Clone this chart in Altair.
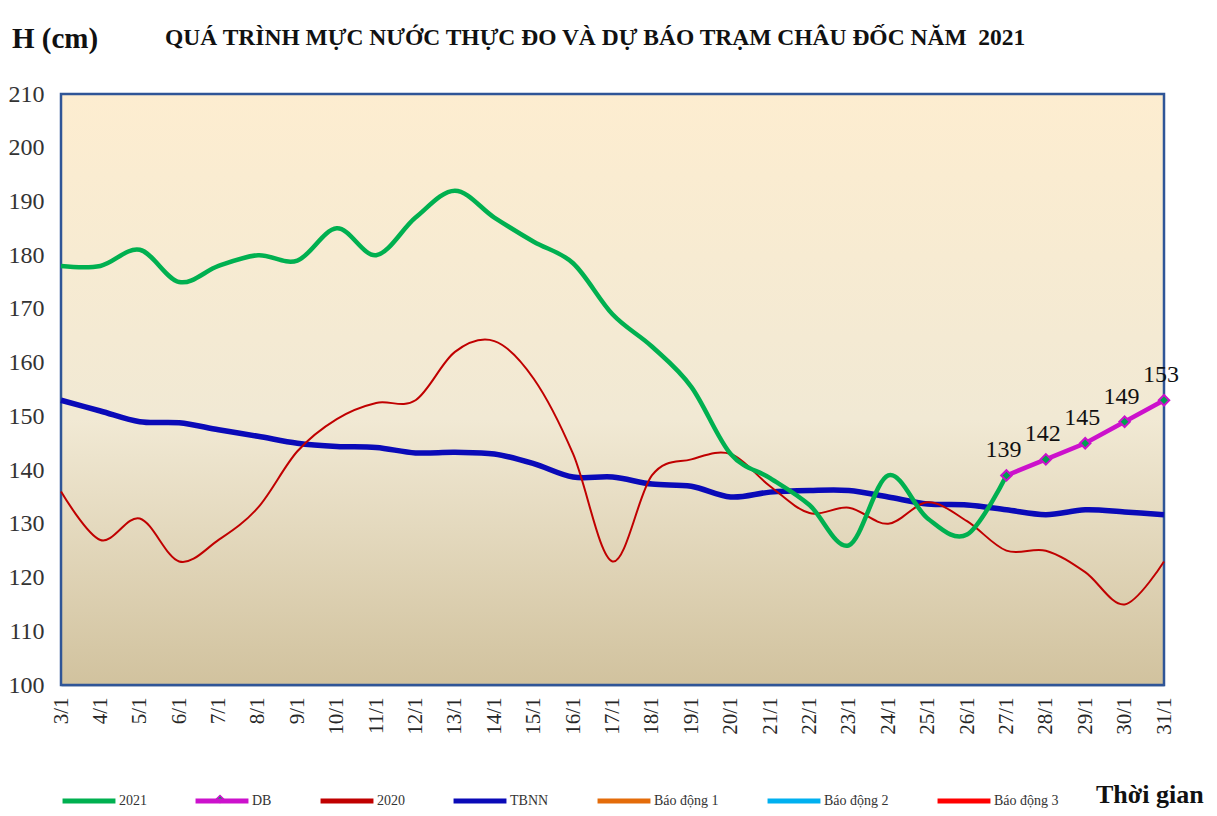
import altair as alt
import pandas as pd

# ---- data ----
days = list(range(3, 32))
day_labels = [f"{d}/1" for d in days]

days_2021 = list(range(3, 28))
lv_2021 = [178, 178, 181, 175, 178, 180, 179, 185, 180, 187, 192, 187, 182.5,
           178.5, 169, 163, 155.5, 143, 138.5, 133.5, 126, 139, 131, 128, 139]

days_db = [27, 28, 29, 30, 31]
lv_db = [139, 142, 145, 149, 153]

lv_2020 = [136, 127, 131, 123, 127, 133, 143.5, 149.5, 152.5, 153, 162, 164,
           157, 143, 123, 139, 142, 143, 137, 132, 133, 130, 134, 130.5, 125,
           125, 121, 115, 123]

lv_tbnn = [153, 151, 149, 148.8, 147.5, 146.3, 145, 144.4, 144.2, 143.2, 143.3,
           143, 141.2, 138.7, 138.7, 137.4, 137, 135, 135.9, 136.2, 136.2, 135,
           133.7, 133.5, 132.6, 131.7, 132.6, 132.2, 131.7]

series_names = ["2021", "DB", "2020", "TBNN", "Báo động 1", "Báo động 2", "Báo động 3"]
series_colors = ["#00B050", "#CC11CC", "#C00000", "#0A0AB8", "#E46C0A", "#00B0F0", "#FF0000"]

y_ticks = list(range(100, 211, 10))

df_2021 = pd.DataFrame({"day": days_2021, "value": lv_2021, "series": "2021"})
df_db = pd.DataFrame({"day": days_db, "value": lv_db, "series": "DB"})
df_2020 = pd.DataFrame({"day": days, "value": lv_2020, "series": "2020"})
df_tbnn = pd.DataFrame({"day": days, "value": lv_tbnn, "series": "TBNN"})
df_bg = pd.DataFrame({"day": [days[0]], "day2": [days[-1]], "value": [y_ticks[0]], "value2": [y_ticks[-1]]})

SERIF = "Liberation Serif"
W, H = 1103, 591

x_axis = alt.Axis(values=days, labelExpr="datum.value + '/1'", labelAngle=-90,
                  labelFont=SERIF, labelFontSize=21, labelColor="#262626",
                  ticks=False, domainColor="#C8D0DC", domainWidth=3,
                  labelPadding=12, title=None, grid=False)
y_axis = alt.Axis(values=y_ticks, labelFont=SERIF, labelFontSize=24, labelColor="#333333",
                  ticks=False, domain=False, labelPadding=17, title=None, grid=False)

x_scale = alt.Scale(domain=[3, 31], nice=False, zero=False)
y_scale = alt.Scale(domain=[100, 210], nice=False, zero=False)

X = alt.X("day:Q", scale=x_scale, axis=x_axis)
Y = alt.Y("value:Q", scale=y_scale, axis=y_axis)

color_scale = alt.Scale(domain=series_names, range=series_colors)
legend = alt.Legend(orient="none", legendX=-1, legendY=678, direction="horizontal",
                    columns=7, title=None, symbolType="stroke", symbolSize=2800,
                    symbolStrokeWidth=5, labelFont=SERIF, labelFontSize=14,
                    labelColor="#333333", labelOffset=1, columnPadding=38,
                    gridAlign="each")
C = alt.Color("series:N", scale=color_scale, legend=legend)

bg = alt.Chart(df_bg).mark_rect(
    color=alt.LinearGradient(gradient="linear", x1=0, x2=0, y1=0, y2=1,
                             stops=[alt.GradientStop(color="#FDEDD0", offset=0),
                                    alt.GradientStop(color="#F1E9D4", offset=0.55),
                                    alt.GradientStop(color="#D1C29E", offset=1)])
).encode(x=X, x2="day2:Q", y=Y, y2="value2:Q")

l_tbnn = alt.Chart(df_tbnn).mark_line(strokeWidth=5.5, interpolate="cardinal").encode(x=X, y=Y, color=C)
l_2020 = alt.Chart(df_2020).mark_line(strokeWidth=2, interpolate="cardinal").encode(x=X, y=Y, color=C)
l_2021 = alt.Chart(df_2021).mark_line(strokeWidth=4.5, interpolate="cardinal").encode(x=X, y=Y, color=C)
l_db = alt.Chart(df_db).mark_line(strokeWidth=4.5).encode(x=X, y=Y, color=C)
p_db = alt.Chart(df_db).mark_point(shape="diamond", filled=True, fill="#00A050",
                                   stroke="#CC11CC", strokeWidth=2, size=110,
                                   opacity=1).encode(x=X, y=Y)
t_db = alt.Chart(df_db).mark_text(font=SERIF, fontSize=24, color="#111111",
                                  dy=-25, dx=-3, align="center").encode(
    x=X, y=Y, text=alt.Text("value:Q"))

# left/top/right frame of the plot area
frame = alt.Chart(df_bg).mark_rect(fill=None, stroke="#2F5597", strokeWidth=2.5).encode(
    x=X, x2="day2:Q", y=Y, y2="value2:Q")

# diamond marker in the DB legend entry
leg_marker = alt.Chart(pd.DataFrame({"k": [0]})).mark_point(
    shape="diamond", filled=True, fill="#00A050", stroke="#CC11CC", strokeWidth=1.5,
    size=50, opacity=1).encode(x=alt.value(159), y=alt.value(705))

# texts outside plot
ann = pd.DataFrame({"t": ["H (cm)"]})
t_h = alt.Chart(ann).mark_text(font=SERIF, fontSize=29, fontWeight="bold", align="left",
                               color="#111111").encode(
    x=alt.value(-49), y=alt.value(-55), text="t:N")
ann2 = pd.DataFrame({"t": ["QUÁ TRÌNH MỰC NƯỚC THỰC ĐO VÀ DỰ BÁO TRẠM CHÂU ĐỐC NĂM\u00a0 2021"]})
t_title = alt.Chart(ann2).mark_text(font=SERIF, fontSize=23.5, fontWeight="bold", align="left",
                                    color="#111111").encode(
    x=alt.value(104), y=alt.value(-56), text="t:N")
ann3 = pd.DataFrame({"t": ["Thời gian"]})
t_time = alt.Chart(ann3).mark_text(font=SERIF, fontSize=26, fontWeight="bold", align="left",
                                   baseline="alphabetic", color="#111111").encode(
    x=alt.value(1035), y=alt.value(709), text="t:N")

chart = alt.layer(bg, frame, l_tbnn, l_2020, l_2021, l_db, p_db, t_db, leg_marker,
                  t_h, t_title, t_time).properties(
    width=W, height=H,
    autosize=alt.AutoSizeParams(type="none"),
    padding={"left": 53, "top": 86, "right": 45, "bottom": 123},
    background="white",
).configure_view(stroke=None)

chart.save("out.html", embed_options={"renderer": "svg", "actions": False})
